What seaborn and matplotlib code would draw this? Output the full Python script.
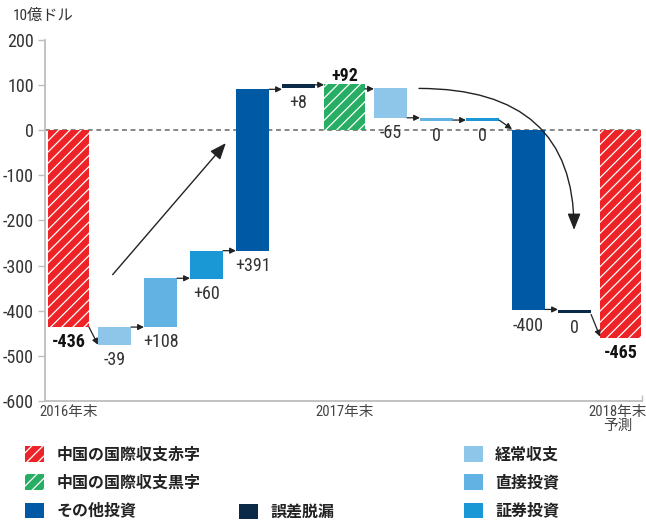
import numpy as np
import pandas as pd
import matplotlib
matplotlib.use("Agg")
import matplotlib.pyplot as plt
from matplotlib.patches import Patch
import seaborn as sns

# ---------------- data ----------------
steps = ["2016年末", "経常収支", "直接投資", "証券投資", "その他投資", "誤差脱漏",
         "2017年末", "経常収支", "直接投資", "証券投資", "その他投資", "誤差脱漏",
         "2018年末"]
series = ["赤字", "経常収支", "直接投資", "証券投資", "その他投資", "誤差脱漏",
          "黒字", "経常収支", "直接投資", "証券投資", "その他投資", "誤差脱漏",
          "赤字"]
values = [-436, -39, 108, 60, 391, 8, 92, -65, 0, 0, -400, 0, -465]
bar_start = [0, -435, -435, -329, -267, 93, 0, 92, 27, 27, 0, -399, 0]
bar_end = [-436, -475, -327, -267, 90, 101, 101, 27, 21, 21, -399, -405, -460]
link_from = [-436, -436, -328, -267, 90, 100, 91, 27, 22, 22, -397, -408]
link_to = [-475, -436, -328, -267, 90, 100, 91, 27, 22, 2, -397, -457]
rise_arrow_x = [0.96, 3.42]
rise_arrow_y = [-320, -29]
fall_arrow_x = [7.62, 10.99]
fall_arrow_y = [92, -221]
xtick_steps = [0, 6, 12]
xtick_labels = ["2016年末", "2017年末", "2018年末\n予測"]
yticks = [-600, -500, -400, -300, -200, -100, 0, 100, 200]
legend_names = {
    "赤字": "中国の国際収支赤字",
    "黒字": "中国の国際収支黒字",
    "その他投資": "その他投資",
    "誤差脱漏": "誤差脱漏",
    "経常収支": "経常収支",
    "直接投資": "直接投資",
    "証券投資": "証券投資",
}
unit_label = "10億ドル"

palette = {
    "赤字": "#EE2327",
    "黒字": "#27AE64",
    "その他投資": "#0059A5",
    "誤差脱漏": "#0B2A48",
    "経常収支": "#8EC6EA",
    "直接投資": "#62B2E3",
    "証券投資": "#1A97D5",
}

# ---------------- style ----------------
sns.set_theme(style="white")
NUMFONT = ["Roboto Condensed", "Liberation Sans Narrow", "Roboto",
           "Noto Sans CJK JP", "DejaVu Sans"]
plt.rcParams["font.family"] = NUMFONT
plt.rcParams["axes.unicode_minus"] = False
plt.rcParams["hatch.linewidth"] = 0.9

CJK = ["Noto Sans CJK JP", "DejaVu Sans"]
GRAY = "#BDBDBD"

fig = plt.figure(figsize=(6.46, 5.25), dpi=100)
ax = fig.add_axes([45 / 646, (525 - 401.2) / 525, 597 / 646, (401.2 - 39.6) / 525])

df = pd.DataFrame({"pos": np.arange(len(steps)), "series": series,
                   "start": bar_start, "end": bar_end, "value": values})
df["height"] = df["end"] - df["start"]
df["total"] = df["series"].isin(["赤字", "黒字"])
df["width"] = np.where(df["total"], 0.89, 0.72)

ax.axhline(0, color="#666666", lw=1.1, ls=(0, (3.2, 2.4)), zorder=1)

for i, row in df.iterrows():
    sns.barplot(data=df.iloc[[i]], x="pos", y="height", native_scale=True, orient="x",
                width=row.width, color=palette[row.series], saturation=1,
                errorbar=None, bottom=row.start,
                hatch="///" if row.total else None,
                edgecolor="white", linewidth=0, ax=ax, zorder=3, legend=False)

# value labels
for i, row in df.iterrows():
    txt = "0" if row.value == 0 else f"{row.value:+d}"
    bold = bool(row.total)
    if row.series == "黒字":
        y = max(row.start, row.end)
        ax.annotate(txt, (row.pos, y), xytext=(0, -0.5), textcoords="offset points",
                    ha="center", va="bottom", fontsize=13,
                    fontweight="bold", color="#111111", zorder=5)
    else:
        y = min(row.start, row.end)
        ax.annotate(txt, (row.pos, y), xytext=(0, -4.5), textcoords="offset points",
                    ha="center", va="top", fontsize=13,
                    fontweight="bold" if bold else "normal",
                    color="#111111" if bold else "#333333", zorder=5)

# connectors
for i in range(len(link_from)):
    x0 = df.pos[i] + df.width[i] / 2
    x1 = df.pos[i + 1] - df.width[i + 1] / 2
    ax.annotate("", xy=(x1, link_to[i]), xytext=(x0, link_from[i]),
                arrowprops=dict(arrowstyle="-|>,head_length=0.5,head_width=0.25",
                                lw=0.9, color="#222222", mutation_scale=7,
                                shrinkA=0, shrinkB=0), zorder=4)

# big trend arrows
ax.annotate("", xy=(rise_arrow_x[1], rise_arrow_y[1]), xytext=(rise_arrow_x[0], rise_arrow_y[0]),
            arrowprops=dict(arrowstyle="-|>,head_length=0.55,head_width=0.22",
                            lw=1.0, color="#222222", mutation_scale=18,
                            shrinkA=0, shrinkB=0), zorder=4)
ax.annotate("", xy=(fall_arrow_x[1], fall_arrow_y[1]), xytext=(fall_arrow_x[0], fall_arrow_y[0]),
            arrowprops=dict(arrowstyle="-|>,head_length=0.55,head_width=0.22",
                            lw=1.0, color="#222222", mutation_scale=18,
                            connectionstyle="angle3,angleA=0,angleB=90",
                            shrinkA=0, shrinkB=0), zorder=4)

# axes
xmax = 12.467
ax.set_xlim(-0.511, xmax)
ax.set_ylim(-600, 200)
ax.set_yticks(yticks)
ax.set_yticklabels([str(v) for v in yticks])
ax.set_xticks([p if p < 12 else p - 0.07 for p in xtick_steps])
ax.set_xticklabels(xtick_labels)
ax.set_xticks([xmax], minor=True)
ax.set_xlabel("")
ax.set_ylabel("")
sns.despine(ax=ax)
for s in ("left", "bottom"):
    ax.spines[s].set_color(GRAY)
    ax.spines[s].set_linewidth(1.3)
ax.tick_params(axis="y", length=5, width=1, color=GRAY, pad=3, labelsize=13,
               labelcolor="#333333", left=True)
ax.tick_params(axis="x", which="major", length=0, pad=3, labelsize=10.5, labelcolor="#444444")
ax.tick_params(axis="x", which="minor", direction="in", length=4, width=1, color=GRAY, bottom=True)
for lab in ax.get_xticklabels():
    lab.set_linespacing(1.0)

fig.text(13 / 646, 1 - 16 / 525, unit_label, ha="left", va="center",
         fontsize=11, color="#333333")

# legends
def handle(key):
    total = key in ("赤字", "黒字")
    return Patch(facecolor=palette[key], edgecolor="white", linewidth=0,
                 hatch="///" if total else None, label=legend_names[key])

leg_kw = dict(frameon=False, borderpad=0, borderaxespad=0, handlelength=1.2,
              handleheight=1.1, handletextpad=0.75, labelspacing=0.75,
              prop={"family": CJK, "weight": "bold", "size": 11.5})
cols = [(["赤字", "黒字", "その他投資"], 25, 482.5),
        (["誤差脱漏"], 239, 512),
        (["経常収支", "直接投資", "証券投資"], 464, 482.5)]
for keys, xp, yp in cols:
    lg = fig.legend(handles=[handle(k) for k in keys], loc="center left",
                    bbox_to_anchor=(xp / 646, 1 - yp / 525), **leg_kw)
    for t in lg.get_texts():
        t.set_color("#222222")

fig.savefig("out.png", dpi=100)
